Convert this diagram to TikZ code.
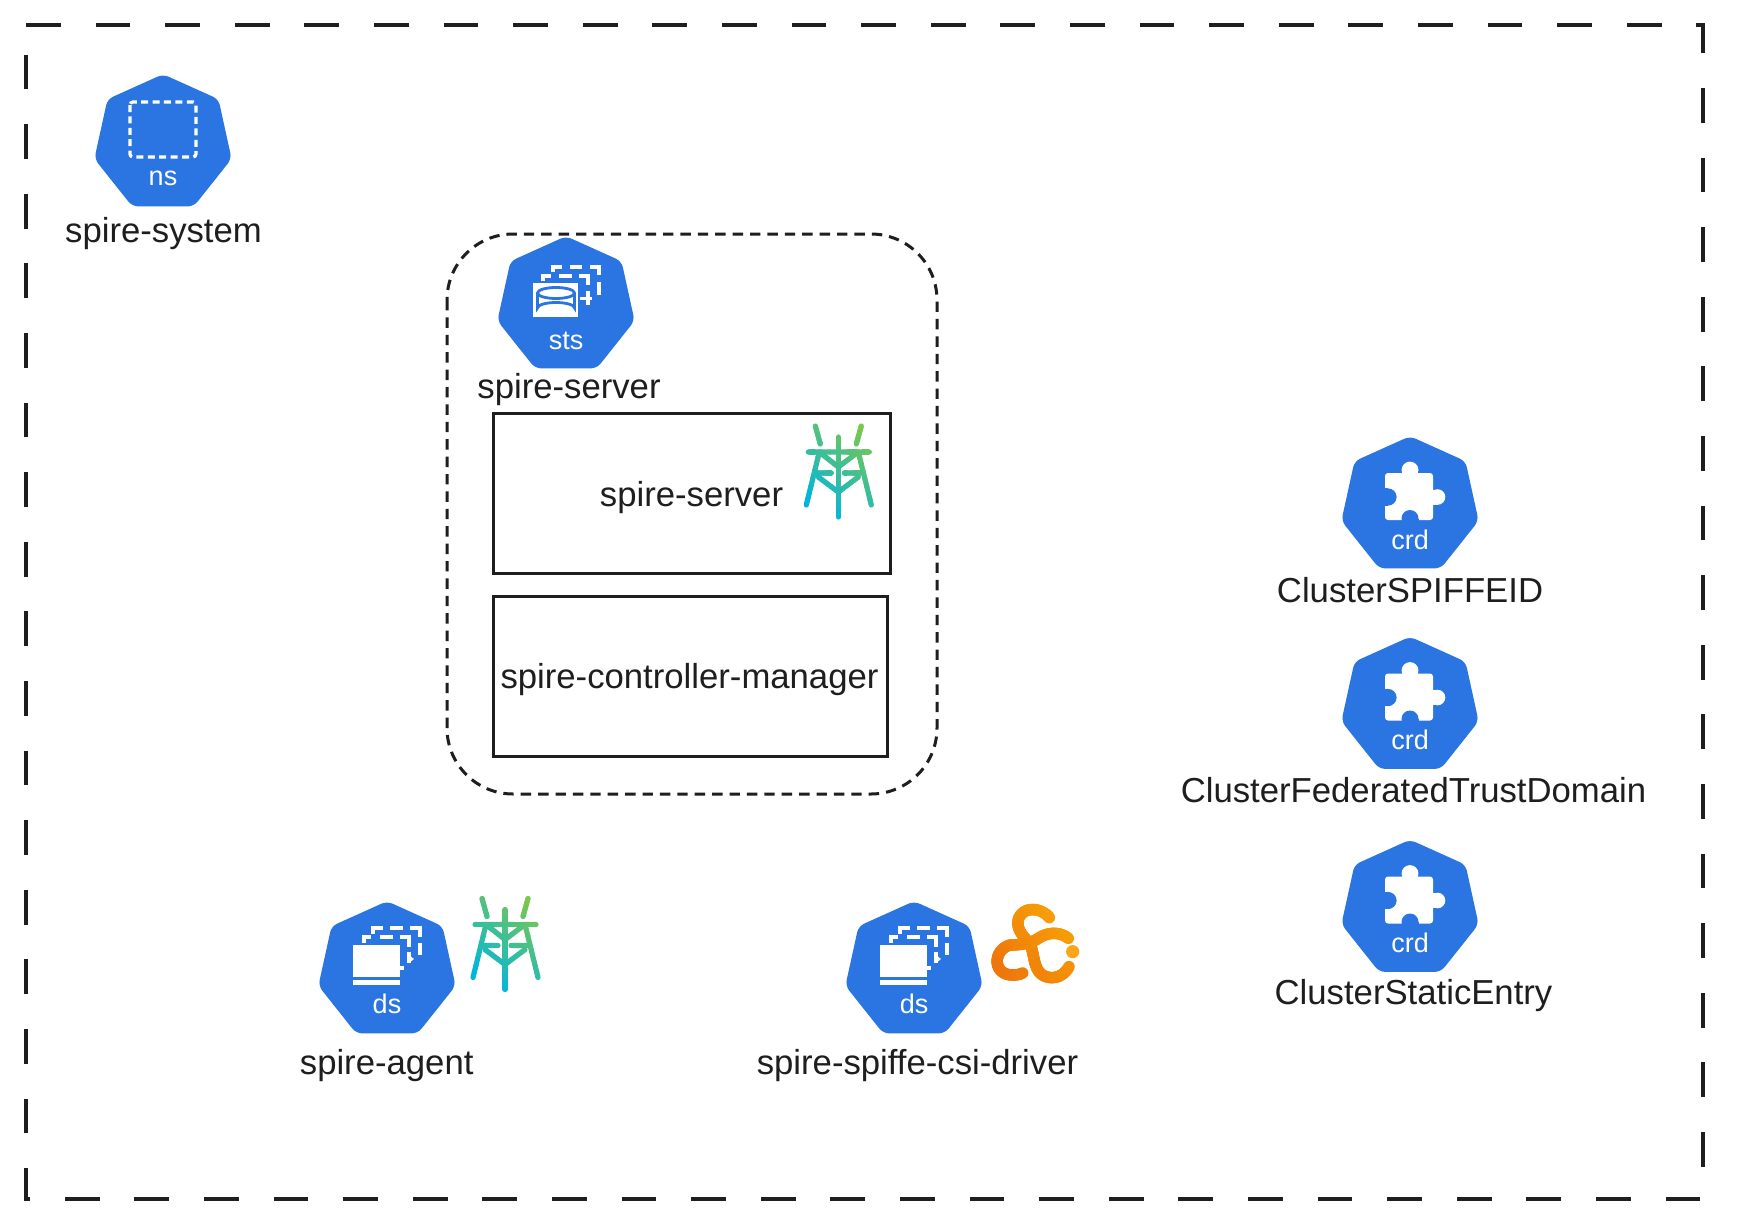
\documentclass[tikz,border=0pt]{standalone}
\usepackage{fontspec}
\setmainfont{Liberation Sans}
\definecolor{kblue}{HTML}{2A75E1}
\definecolor{ink}{HTML}{1E1E1E}
\definecolor{csidot}{HTML}{FBA618}
\newcommand{\bigfont}{\fontsize{34.7}{40}\selectfont}
\newcommand{\smallfont}{\fontsize{27}{30}\selectfont}
\tikzset{
  outerbox/.style={draw=ink,line width=3.2pt,dash pattern=on 34.8pt off 34.8pt},
  podbox/.style={draw=ink,line width=3pt,dash pattern=on 10.4pt off 7pt},
  contbox/.style={draw=ink,line width=3pt,fill=white},
  biglabel/.style={font=\bigfont,text=ink,anchor=base,inner sep=0pt},
  kindlabel/.style={font=\smallfont,text=white,anchor=base,inner sep=0pt},
  wline/.style={draw=white,line width=3.2pt},
  cylline/.style={draw=kblue,line width=2.8pt,fill=white},
}
% gradient stroked Bezier, drawn piece by piece
\newcommand{\gradset}[9]{\def\ga{#1}\def\gb{#2}\def\gc{#3}\def\ra{#4}\def\rg{#5}\def\rb{#6}\def\sa{#7}\def\sg{#8}\def\sb{#9}}
\newcommand{\gbez}[9]{% N p0 p1 p2 p3
  \foreach \i in {1,...,#1}{
    \pgfmathsetmacro{\ta}{(\i-1)/#1}
    \pgfmathsetmacro{\tb}{\i/#1}
    \pgfmathsetmacro{\xa}{(1-\ta)^3*#2+3*(1-\ta)^2*\ta*#4+3*(1-\ta)*\ta^2*#6+\ta^3*#8}
    \pgfmathsetmacro{\ya}{(1-\ta)^3*#3+3*(1-\ta)^2*\ta*#5+3*(1-\ta)*\ta^2*#7+\ta^3*#9}
    \pgfmathsetmacro{\xb}{(1-\tb)^3*#2+3*(1-\tb)^2*\tb*#4+3*(1-\tb)*\tb^2*#6+\tb^3*#8}
    \pgfmathsetmacro{\yb}{(1-\tb)^3*#3+3*(1-\tb)^2*\tb*#5+3*(1-\tb)*\tb^2*#7+\tb^3*#9}
    \pgfmathsetmacro{\cc}{min(1,max(0,\ga*\xa+\gb*\ya+\gc))}
    \pgfmathsetmacro{\cR}{\ra+(\sa-\ra)*\cc}
    \pgfmathsetmacro{\cG}{\rg+(\sg-\rg)*\cc}
    \pgfmathsetmacro{\cB}{\rb+(\sb-\rb)*\cc}
    \definecolor{gcol}{rgb}{\cR,\cG,\cB}
    \draw[gcol,line width=\gw pt,line cap=round] (\xa,\ya)--(\xb,\yb);
  }}
\newcommand{\gl}[4]{\gbez{10}{#1}{#2}{#1}{#2}{#3}{#4}{#3}{#4}}
\newcommand{\towerzz}[2]{%
  \begin{scope}[shift={(#1,#2)}]
    \def\gw{5.2}
    \gradset{0.006}{-0.0075}{0.72}{0}{0.71}{0.88}{0.58}{0.80}{0.18}
    \gl{-23}{0}{-18}{18}
    \gl{23}{0}{18}{18}
    \gl{0}{11}{0}{91}
    \gl{-30}{26}{31}{26}
    \gl{-19}{26}{-32}{79}
    \gl{20}{26}{33}{79}
    \gl{-19}{26}{0}{41}
    \gl{20}{26}{0}{41}
    \gl{-22}{47}{-7}{47}
    \gl{6}{47}{22}{47}
    \gl{-20}{51}{0}{66}
    \gl{20}{51}{0}{66}
  \end{scope}}
\newcommand{\hept}[6]{% name x y label icon baseline
  \begin{scope}[shift={(#2,#3)}]
    \fill[kblue,rounded corners=6pt] (0,-0.8)--(55.5,24.2)--(68.6,83.8)--(30.8,131.4)--(-30.8,131.4)--(-68.6,83.8)--(-55.5,24.2)--cycle;
    #5
    \node[kindlabel] (#1) at (0,#6) {#4};
  \end{scope}}
\newcommand{\iconns}{\draw[wline,rounded corners=3pt,dash pattern=on 7pt off 4.4pt] (-33,27) rectangle (33,82);}
\newcommand{\iconds}{%
  \begin{scope}[shift={(-42,18)}]
    \fill[white] (7.7,25) rectangle (55,56.7);
    \fill[white] (7.7,60.3) rectangle (55,64.5);
    \draw[wline] (19,23)--(19,17)--(26,17);
    \draw[wline] (35,17)--(48,17);
    \draw[wline] (55,17)--(64,17)--(64,27);
    \draw[wline] (64,32)--(64,43);
    \draw[wline] (55,48)--(59,48);
    \fill[white] (64,35)--(69,39)--(64,43)--cycle;
    \draw[wline] (28,14)--(28,8)--(38,8);
    \draw[wline] (45,8)--(58,8);
    \draw[wline] (65,8)--(75,8)--(75,17);
    \draw[wline] (75,23)--(75,35);
  \end{scope}}
\newcommand{\iconsts}{%
  \begin{scope}[shift={(-46,18)}]
    \fill[white] (12.7,28) rectangle (58.3,62);
    \draw[cylline] (17.5,38)--(17.5,53) arc[start angle=180,end angle=360,x radius=18.5,y radius=5.5]--(54.5,38);
    \draw[cylline] (36,38) ellipse[x radius=18.5,y radius=5.5];
    \draw[wline] (23,26)--(23,21)--(31,21);
    \draw[wline] (39,21)--(52,21);
    \draw[wline] (59,21)--(68,21)--(68,30);
    \draw[wline] (68,36)--(68,50);
    \draw[wline] (60,43.5)--(72,43.5);
    \draw[wline] (33,17)--(33,12)--(42,12);
    \draw[wline] (50,12)--(62,12);
    \draw[wline] (70,12)--(79,12)--(79,20);
    \draw[wline] (79,27)--(79,40);
  \end{scope}}
\newcommand{\iconcrd}{%
  \begin{scope}[shift={(-40,13)}]
    \fill[white,rounded corners=3pt] (15,23) rectangle (63,70);
    \fill[white] (40,20) circle (8.4);
    \fill[white] (33,20) rectangle (47,26);
    \fill[white] (67.5,47) circle (7.8);
    \fill[white] (60,39.5) rectangle (67.5,54.5);
    \fill[kblue] (18,47) circle (8.6);
    \fill[kblue] (12,38.4) rectangle (18,55.6);
    \fill[kblue] (40,68.5) circle (8.5);
    \fill[kblue] (31.5,68.5) rectangle (48.5,73);
  \end{scope}}
\begin{document}
\begin{tikzpicture}[x=1pt,y=-1pt]
  \useasboundingbox (0,0) rectangle (1738,1226);
  \fill[white] (0,0) rectangle (1738,1226);
  \draw[outerbox] (26,25)--(1703,25)--(1703,1199)--(26,1199)--cycle;

  % pod
  \draw[podbox,rounded corners=66pt] (447,234) rectangle (937,794);
  \hept{nsk}{163}{75}{ns}{\iconns}{110}
  \node[biglabel] (nsname) at (163.5,242.5) {spire-system};
  \hept{stsk}{566}{237}{sts}{\iconsts}{112}
  \node[biglabel] (stsname) at (569,398) {spire-server};
  \draw[contbox] (493,413) rectangle (890,573);
  \node[biglabel] (srvname) at (691.5,506) {spire-server};
  \towerzz{838.3}{426}
  \draw[contbox] (493.5,596.5) rectangle (887.5,756);
  \node[biglabel] (ctlname) at (689.5,688) {spire-controller-manager};

  \hept{dsa}{387}{902}{ds}{\iconds}{111}
  \towerzz{505}{898.5}
  \node[biglabel] (agentname) at (386.7,1074) {spire-agent};

  \hept{dsc}{914}{902}{ds}{\iconds}{111}
  \node[biglabel] (csiname) at (917.5,1074) {spire-spiffe-csi-driver};
  \begin{scope}[shift={(985,895)},x=0.3333pt,y=-0.3333pt]
    \def\gw{11.5}
    \gradset{0.0022}{-0.0022}{0.45}{0.93}{0.45}{0.04}{0.98}{0.68}{0.03}
    \gbez{24}{193}{68}{175}{42}{118}{28}{100}{72}
    \gbez{12}{100}{72}{92}{105}{118}{125}{133}{145}
    \gbez{24}{133}{145}{153}{175}{138}{245}{200}{248}
    \gbez{12}{200}{248}{225}{248}{243}{232}{252}{215}
    \gbez{16}{250}{130}{225}{110}{190}{110}{160}{130}
    \gbez{14}{160}{130}{135}{147}{100}{150}{75}{150}
    \gbez{24}{75}{150}{22}{165}{22}{242}{85}{240}
    \gbez{6}{85}{240}{95}{240}{105}{238}{113}{234}
    \fill[csidot] (263,170) circle[radius=6.6pt];
  \end{scope}

  \hept{crda}{1410}{437}{crd}{\iconcrd}{112}
  \node[biglabel] (crdaname) at (1410,602) {ClusterSPIFFEID};
  \hept{crdb}{1410}{637.5}{crd}{\iconcrd}{112}
  \node[biglabel] (crdbname) at (1413.5,802) {ClusterFederatedTrustDomain};
  \hept{crdc}{1410}{840.5}{crd}{\iconcrd}{112}
  \node[biglabel] (crdcname) at (1413.5,1004) {ClusterStaticEntry};
\end{tikzpicture}
\end{document}
